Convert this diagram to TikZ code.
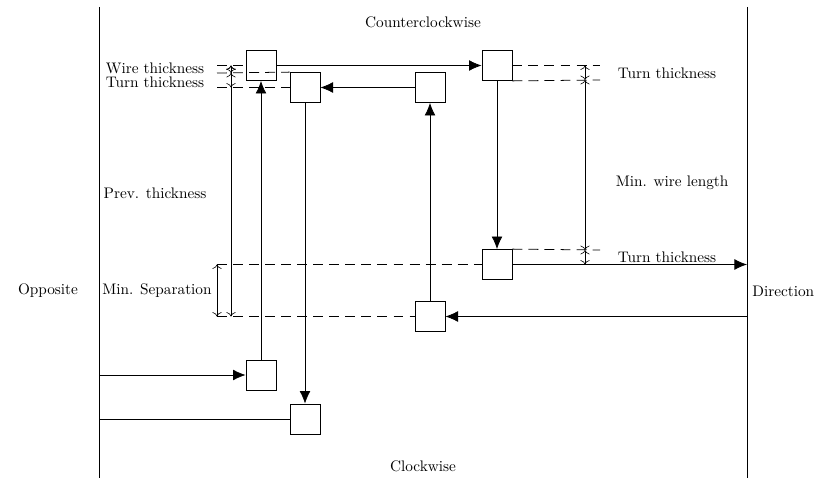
\documentclass[tikz,border=0pt]{standalone}
\usetikzlibrary{arrows.meta}
\tikzset{
  cell/.style={rectangle, draw, minimum size=0.69cm, inner sep=0pt, line width=0.5pt},
  wire/.style={-{Latex[length=2.9mm, width=2.5mm]}, line width=0.5pt},
  plainwire/.style={line width=0.5pt},
  guide/.style={dash pattern=on 6.5pt off 4pt, line width=0.5pt},
  dimarrow/.style={{To[length=1mm]}-{To[length=1mm]}, line width=0.4pt},
  dimlab/.style={inner sep=1pt},
}

\begin{document}
\begin{tikzpicture}[x=0.023cm, y=-0.023cm]
\useasboundingbox (0,0) rectangle (817,478);
% the two sides of the channel
\coordinate (lt) at (99,7);
\coordinate (lb) at (99,478);
\coordinate (rt) at (747,7);
\coordinate (rb) at (747,478);
\draw[plainwire] (lt) -- (lb);
\draw[plainwire] (rt) -- (rb);
\node (ccw) at (423,22) {Counterclockwise};
\node (cw) at (423,466) {Clockwise};
\node (opp) at (48,291) {Opposite};
\node[inner sep=1pt, anchor=east] (dir) at (816,291) {Direction};
% the turn cells
\node[cell] (ta) at (261,65.5) {};
\node[cell] (tb) at (305,87.5) {};
\node[cell] (tc) at (430,87.5) {};
\node[cell] (td) at (497,65.5) {};
\node[cell] (te) at (497,264.5) {};
\node[cell] (tf) at (430,316.5) {};
\node[cell] (tg) at (261,375) {};
\node[cell] (th) at (305,419) {};
% wire ends on the sides
\coordinate (lg) at (99,375);
\coordinate (lh) at (99,419);
\coordinate (re) at (747,264.5);
\coordinate (rf) at (747,316.5);
% wires
\draw[wire] (lg) -- (tg);
\draw[wire] (tg) -- (ta);
\draw[wire] (ta) -- (td);
\draw[wire] (td) -- (te);
\draw[wire] (te) -- (re);
\draw[wire] (rf) -- (tf);
\draw[wire] (tf) -- (tc);
\draw[wire] (tc) -- (tb);
\draw[wire] (tb) -- (th);
\draw[plainwire] (th) -- (lh);
% guide lines, left
\coordinate (ga) at (217,65.5);
\coordinate (gb) at (217,73);
\coordinate (gc) at (217,87.5);
\coordinate (gd) at (217,264.5);
\coordinate (ge) at (217,316.5);
\draw[guide] (ga) -- (ta.west);
\draw[guide] (gb) -- (tb.north west);
\draw[guide] (gc) -- (tb.west);
\draw[guide] (gd) -- (te.west);
\draw[guide] (ge) -- (tf.west);
% guide lines, right
\coordinate (gf) at (600,65.5);
\coordinate (gg) at (600,80);
\coordinate (gh) at (600,250);
\coordinate (gi) at (600,264.5);
\draw[guide] (td.east) -- (gf);
\draw[guide] (td.south east) -- (gg);
\draw[guide] (te.north east) -- (gh);
\draw[guide] (te.east) -- (gi);
% dimensions, left
\draw[dimarrow] (231,65.5) coordinate (da) -- (231,73) coordinate (db);
\draw[dimarrow] (db) -- (231,87.5) coordinate (dc);
\draw[dimarrow] (da) -- (231,316.5) coordinate (dd);
\draw[dimarrow] (gd) -- (ge);
\node[dimlab, anchor=east] (wt) at (206,68) {Wire thickness};
\node[dimlab, anchor=east] (tt1) at (206,82) {Turn thickness};
\node[dimlab] (pt) at (155,193) {Prev. thickness};
\node[dimlab] (ms) at (157,291) {Min. Separation};
% dimensions, right
\draw[dimarrow] (585,65.5) coordinate (de) -- (585,80) coordinate (df);
\draw[dimarrow] (df) -- (585,250) coordinate (dg);
\draw[dimarrow] (dg) -- (585,264.5);
\node[dimlab, anchor=west] (tt2) at (616,73) {Turn thickness};
\node[dimlab, anchor=west] (mwl) at (614,183) {Min. wire length};
\node[dimlab, anchor=west] (tt3) at (616,257) {Turn thickness};
\end{tikzpicture}
\end{document}
